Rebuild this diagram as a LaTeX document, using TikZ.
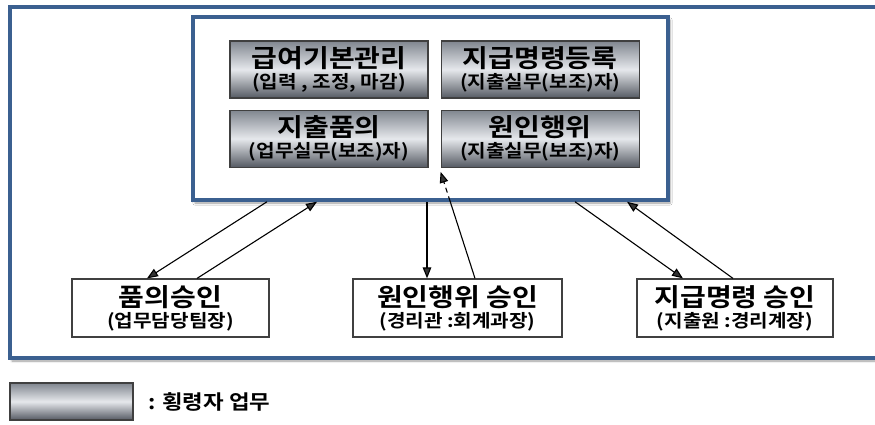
\documentclass[tikz,border=0pt]{standalone}
\usepackage{fontspec}
\setmainfont{Noto Sans CJK KR}[BoldFont={Noto Sans CJK KR Bold},FakeStretch=1.12]
\usepackage{tikz}
\usetikzlibrary{positioning,calc,arrows.meta,shadows.blur}

\definecolor{frameblue}{HTML}{3B6090}
\definecolor{grtop}{HTML}{80868F}
\definecolor{grmid}{HTML}{E6E8EC}
\definecolor{grbot}{HTML}{555A63}

\newcommand{\ttl}[1]{{\fontsize{25}{27}\selectfont #1}}

\begin{document}
\begin{tikzpicture}[x=1pt,y=-1pt,>={Triangle[length=11pt,width=8.5pt]},line width=1.1pt,node distance=11pt and 12pt]
    \tikzstyle{every node}=[font=\bfseries\fontsize{18}{21}\selectfont,align=center,inner sep=0pt]
    \tikzstyle{frame}=[draw=frameblue,line width=3.5pt,fill=white,blur shadow={shadow xshift=2pt,shadow yshift=-3pt}]
    \tikzstyle{task}=[draw=black!75,line width=1.2pt,minimum width=198pt,minimum height=57pt,top color=grtop,bottom color=grbot,middle color=grmid]
    \tikzstyle{appr}=[draw=black!75,line width=1.2pt,fill=white,minimum height=58pt]
      \useasboundingbox (0,0) rectangle (875,425);
      \draw[frame] (10,7) rectangle (905,358);
      \node[frame,minimum width=475pt,minimum height=183pt] (inner) at (430.5,108.5) {};

      % tasks of the embezzler
      \node[task] (pay) at (329,69.5) {\ttl{급여기본관리}\\(입력 , 조정, 마감)};
      \node[task,right = of pay]  (order) {\ttl{지급명령등록}\\(지출실무(보조)자)};
      \node[task,below = of pay]  (draft) {\ttl{지출품의}\\(업무실무(보조)자)};
      \node[task,below = of order] (cause) {\ttl{원인행위}\\(지출실무(보조)자)};

      % approvals
      \node[appr,minimum width=197pt] (drappr) at (170.5,308) {\ttl{품의승인}\\(업무담당팀장)};
      \node[appr,minimum width=209pt] (caappr) at (457.5,308) {\ttl{원인행위 승인}\\(경리관 :회계과장)};
      \node[appr,minimum width=196pt] (orappr) at (735,308) {\ttl{지급명령 승인}\\(지출원 :경리계장)};

      % legend
      \node[task,minimum width=123pt,minimum height=37pt] (legbox) at (71.5,401.5) {};
      \node[right = 14pt of legbox,font=\bfseries\fontsize{20}{22}\selectfont] (legtxt) {: 횡령자 업무};

      \draw[->] ([xshift=-163.5pt]inner.south) -- ([xshift=-23.5pt]drappr.north);
      \draw[->] ([xshift=26.5pt]drappr.north)  -- ([xshift=-113.5pt]inner.south);
      \draw[->] ([xshift=-3.5pt]inner.south)   -- ([xshift=-30.5pt]caappr.north);
      \coordinate (tip) at ([yshift=-4pt]cause.south west);
      \coordinate (cross) at ($([xshift=17.5pt]caappr.north)!0.725!(tip)$);
      \draw ([xshift=17.5pt]caappr.north) -- (cross);
      \draw[->,dash pattern=on 5pt off 4pt] (cross) -- (tip);
      \draw[->] ([xshift=144.5pt]inner.south)  -- ([xshift=-52pt]orappr.north);
      \draw[->] ([xshift=-2pt]orappr.north)    -- ([xshift=196.5pt]inner.south);
    \end{tikzpicture}
\end{document}
